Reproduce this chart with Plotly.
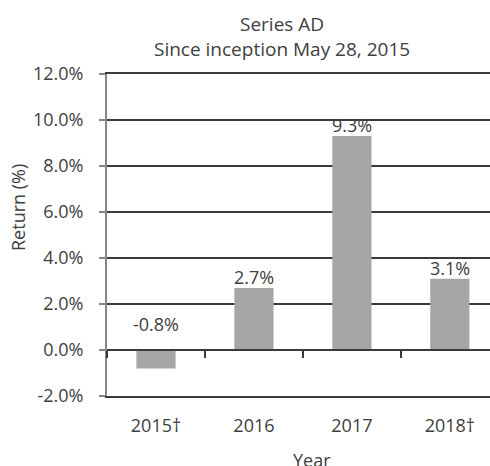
import plotly.graph_objects as go

categories = ["2015†", "2016", "2017", "2018†"]
returns = [-0.8, 2.7, 9.3, 3.1]
labels = ["-0.8%", "2.7%", "9.3%", "3.1%"]
y_ticks = [-2, 0, 2, 4, 6, 8, 10, 12]
y_tick_labels = ["-2.0%", "0.0%", "2.0%", "4.0%", "6.0%", "8.0%", "10.0%", "12.0%"]

FONT = "Open Sans"
TXT = "#404040"
GRID = "#3a3a3a"
FS = 18

fig = go.Figure()
fig.add_trace(go.Bar(x=categories, y=returns, marker=dict(color="#a6a6a6", line=dict(width=0)),
                     width=0.4, hoverinfo="skip", showlegend=False))
fig.add_trace(go.Scatter(x=categories, y=returns, xaxis="x2", yaxis="y", mode="markers",
                         marker=dict(opacity=0), hoverinfo="skip", showlegend=False))

for i, (v, t) in enumerate(zip(returns, labels)):
    fig.add_annotation(x=i, y=max(v, 0), text=t, showarrow=False, yanchor="bottom",
                       yshift=(12 if v < 0 else -3), font=dict(family=FONT, size=FS, color=TXT))

fig.update_layout(
    width=490, height=466,
    margin=dict(l=107, r=0, t=74, b=70, autoexpand=False),
    paper_bgcolor="white", plot_bgcolor="white",
    font=dict(family=FONT, size=FS, color=TXT),
    xaxis=dict(type="category", range=[-0.5, 3.41], showgrid=False, showline=True, mirror=True,
               linecolor=GRID, linewidth=1.5, ticks="",
               automargin=False, ticklabelstandoff=13, tickfont=dict(size=FS, color=TXT),
               fixedrange=True),
    xaxis2=dict(type="category", overlaying="x", matches="x", anchor="free", position=2/14,
                showgrid=False, automargin=False,
                showline=True, linecolor=GRID, linewidth=1.5, ticks="outside", tickson="boundaries",
                ticklen=7, tickwidth=1.5, tickcolor=GRID, showticklabels=False),
    yaxis=dict(range=[-2, 12], tickvals=y_ticks, ticktext=y_tick_labels, showgrid=True,
               automargin=False,
               gridcolor=GRID, gridwidth=1.5, zeroline=False, showline=True, linecolor="#868686",
               linewidth=2, ticks="outside", ticklen=6, tickwidth=2, tickcolor="#868686",
               ticklabelstandoff=12, tickfont=dict(size=FS, color=TXT), layer="above traces"),
    showlegend=False,
)

fig.add_annotation(xref="paper", yref="paper", x=(282-107)/383, y=1, yshift=10, yanchor="bottom",
                   text="Series AD<br>Since inception May 28, 2015", showarrow=False,
                   font=dict(family=FONT, size=19, color=TXT))
fig.add_annotation(xref="paper", yref="paper", x=(18-107)/383, xanchor="center", y=(396-208)/322,
                   text="Return (%)", textangle=-90, showarrow=False,
                   font=dict(family=FONT, size=FS, color=TXT))
fig.add_annotation(xref="paper", yref="paper", x=(312-107)/383, y=0, yshift=-50, yanchor="top",
                   text="Year", showarrow=False, font=dict(family=FONT, size=FS, color=TXT))

fig.write_html("out.html", config={"displayModeBar": False},
               post_script="document.body.style.margin='0px';")
